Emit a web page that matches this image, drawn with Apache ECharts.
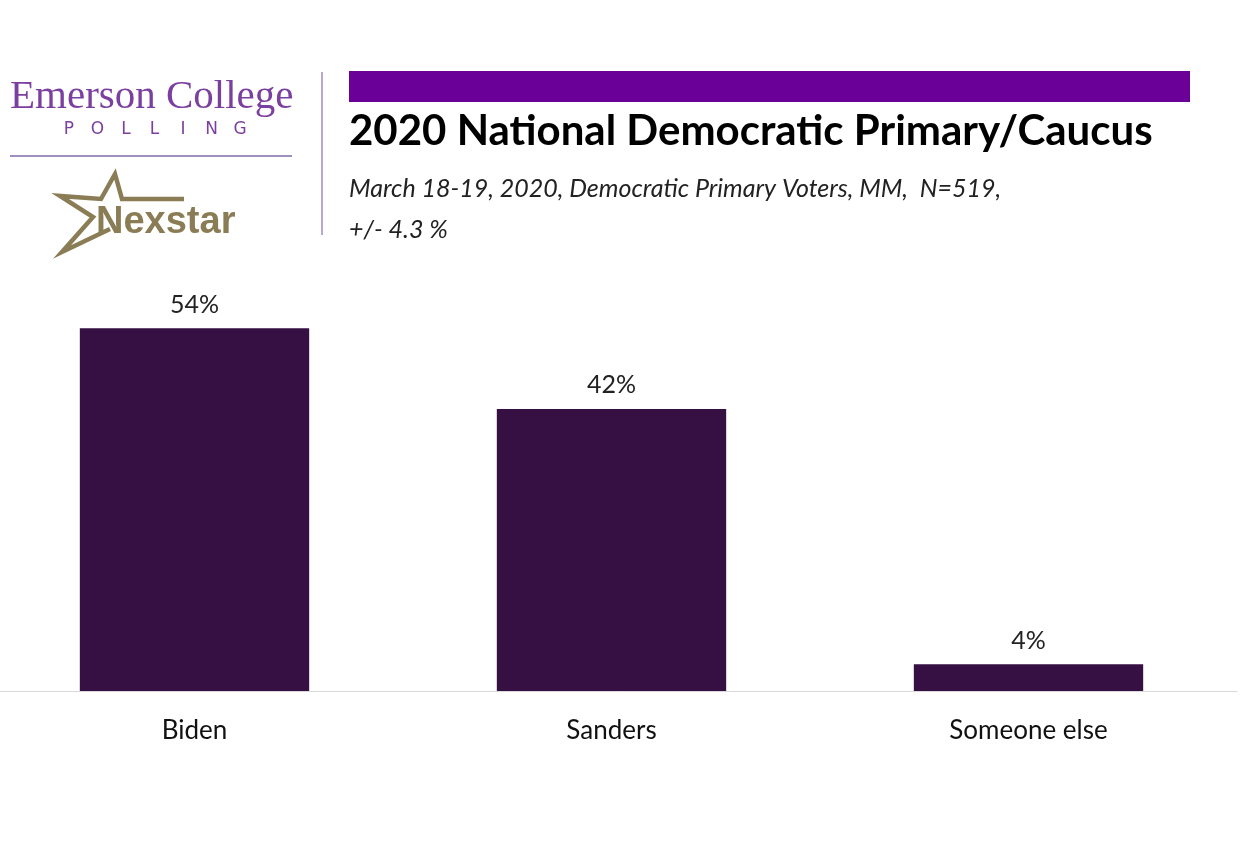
<!DOCTYPE html>
<html><head><meta charset="utf-8">
<script src="https://cdn.jsdelivr.net/npm/echarts@6/dist/echarts.min.js"></script>
<style>html,body{margin:0;padding:0;background:#fff}#c{width:1247px;height:857px}</style>
</head><body><div id="c"></div>
<script>
const categories = ['Biden', 'Sanders', 'Someone else'];
const values = [54, 42, 4];
const titleText = '2020 National Democratic Primary/Caucus';
const subtitle1 = 'March 18-19, 2020, Democratic Primary Voters, MM,  N=519,';
const subtitle2 = '+/- 4.3 %';
const pollingLetters = ['P', 'O', 'L', 'L', 'I', 'N', 'G'];

const chart = echarts.init(document.getElementById('c'));
const gold = '#8a7c55';
const purple = '#7b3fa0';
const graphics = [
  { type: 'rect', shape: { x: 349, y: 71, width: 841, height: 31 }, style: { fill: '#6b0099' } },
  { type: 'text', left: 349, top: 110, style: { text: titleText, font: 'bold 42px Lato', fill: '#000' } },
  { type: 'text', left: 349, top: 176, style: { text: subtitle1, font: 'italic 25px Lato', fill: '#222' } },
  { type: 'text', left: 349, top: 217, style: { text: subtitle2, font: 'italic 25px Lato', fill: '#222' } },
  { type: 'line', shape: { x1: 322, y1: 72, x2: 322, y2: 235 }, style: { stroke: '#b9a7cf', lineWidth: 2 } },
  { type: 'text', left: 10, top: 77, style: { text: 'Emerson College', font: '41px "Liberation Serif"', fill: purple } },
  { type: 'line', shape: { x1: 10, y1: 156, x2: 292, y2: 156 }, style: { stroke: '#9f8fbf', lineWidth: 2 } },
  { type: 'polyline', shape: { points: [[184,199],[122,199],[115,174],[101,199],[60,196],[93,217],[62,252],[110,229]] }, style: { stroke: gold, lineWidth: 4.5, fill: null, lineJoin: 'miter' } },
  { type: 'text', left: 96, top: 204, style: { text: 'Nexstar', font: 'bold 38px "Liberation Sans"', fill: gold } }
];
pollingLetters.forEach(function (ch, i) {
  graphics.push({ type: 'text', x: 69 + i * 28.5, y: 130, style: { text: ch, font: '17px "DejaVu Sans"', fill: purple, align: 'center', verticalAlign: 'middle' } });
});

chart.setOption({
  backgroundColor: '#fff',
  animation: false,
  grid: { left: -14, width: 1251, top: 288, bottom: 166, outerBoundsMode: 'none', containLabel: false },
  xAxis: {
    type: 'category', data: categories,
    axisLine: { lineStyle: { color: '#d9d9d9', width: 1 } },
    axisTick: { show: false },
    axisLabel: { color: '#111', fontSize: 26, fontFamily: 'Lato', margin: 27 }
  },
  yAxis: { type: 'value', min: 0, max: 60, show: false, splitLine: { show: false } },
  series: [{
    type: 'bar', data: values, barWidth: '55%',
    itemStyle: { color: '#371043' },
    label: { show: true, position: 'top', distance: 11, formatter: '{c}%', color: '#222', fontSize: 25, fontFamily: 'Lato' }
  }],
  graphic: graphics
});
</script></body></html>
